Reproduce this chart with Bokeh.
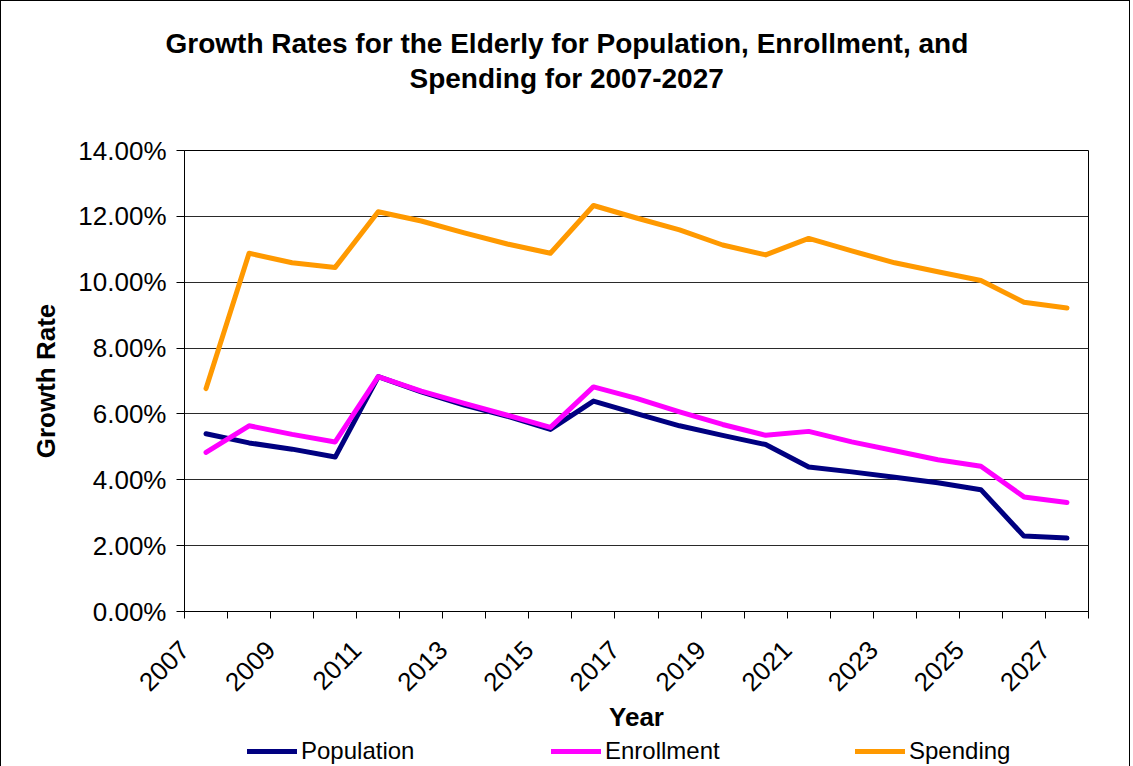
from bokeh.plotting import figure
from bokeh.layouts import column
from bokeh.models import (ColumnDataSource, Range1d, FixedTicker, SingleIntervalTicker,
                          PrintfTickFormatter, Legend, LegendItem, Title)
from bokeh.embed import file_html
from bokeh.resources import INLINE

# ---------------- data ----------------
years = [str(y) for y in range(2007, 2028)]
population = [5.40, 5.12, 4.93, 4.69, 7.13, 6.67, 6.27, 5.93, 5.53, 6.39, 6.01,
              5.64, 5.35, 5.07, 4.39, 4.24, 4.08, 3.91, 3.70, 2.29, 2.23]
enrollment = [4.83, 5.64, 5.38, 5.15, 7.13, 6.69, 6.32, 5.96, 5.59, 6.82, 6.47,
              6.06, 5.68, 5.35, 5.47, 5.15, 4.88, 4.61, 4.41, 3.48, 3.31]
spending = [6.77, 10.88, 10.59, 10.45, 12.14, 11.86, 11.50, 11.16, 10.88, 12.33, 11.95,
            11.59, 11.13, 10.83, 11.33, 10.95, 10.59, 10.32, 10.05, 9.39, 9.22]
series_names = ["Population", "Enrollment", "Spending"]
series_cols = ["population", "enrollment", "spending"]
series_colors = ["#000080", "#FF00FF", "#FF9900"]
title_lines = ["Growth Rates for the Elderly for Population, Enrollment, and",
               "Spending for 2007-2027"]
y_max = 14
y_step = 2

FONT = "Liberation Sans"
LINE_W = 5

n = len(years)
xpos = [i + 0.5 for i in range(n)]  # category centres
source = ColumnDataSource(dict(x=xpos, year=years, population=population,
                               enrollment=enrollment, spending=spending))

p = figure(frame_width=904, frame_height=461, output_backend="svg", toolbar_location=None,
           x_range=Range1d(0, n), y_range=Range1d(0, y_max),
           min_border_left=183, min_border_right=41, min_border_top=149,
           min_border_bottom=122)
p.title.visible = False
p.outline_line_color = "#000000"
p.outline_line_width = 1
p.background_fill_color = "white"
p.border_fill_color = "white"

# ---------------- axes ----------------
label_shift = 0.5
tick_pos = [i + 0.5 - label_shift for i in range(0, n, 2)]
p.xaxis.ticker = FixedTicker(ticks=tick_pos, minor_ticks=list(range(n + 1)))
p.xaxis.major_label_overrides = {t: years[i] for t, i in zip(tick_pos, range(0, n, 2))}
p.xaxis.major_label_orientation = 0.7853981634
p.xaxis.major_tick_out = 0
p.xaxis.major_tick_in = 0
p.xaxis.minor_tick_out = 7
p.xaxis.minor_tick_in = 0
p.xaxis.minor_tick_line_color = "#000000"
p.xaxis.major_label_standoff = 27
p.xaxis.axis_label = "Year"
p.xaxis.axis_label_standoff = 0

p.yaxis.ticker = SingleIntervalTicker(interval=y_step, num_minor_ticks=0)
p.yaxis.formatter = PrintfTickFormatter(format="%.2f%%")
p.yaxis.major_tick_out = 8
p.yaxis.major_tick_in = 0
p.yaxis.minor_tick_out = 0
p.yaxis.minor_tick_in = 0
p.yaxis.major_label_standoff = 10
p.yaxis.axis_label = "Growth Rate"
p.yaxis.axis_label_standoff = 14

for ax in (p.xaxis[0], p.yaxis[0]):
    ax.axis_line_color = "#000000"
    ax.axis_line_width = 1
    ax.major_tick_line_color = "#000000"
    ax.major_label_text_font = FONT
    ax.major_label_text_font_size = "26px"
    ax.major_label_text_color = "#000000"
    ax.axis_label_text_font = FONT
    ax.axis_label_text_font_size = "26px"
    ax.axis_label_text_font_style = "bold"
    ax.axis_label_text_color = "#000000"

p.xgrid.visible = False
p.ygrid.grid_line_color = "#2a2a2a"
p.ygrid.grid_line_width = 1

# ---------------- lines ----------------
for col, color in zip(series_cols, series_colors):
    p.line("x", col, source=source, line_color=color, line_width=LINE_W,
           line_join="round", line_cap="round")

# ---------------- title (stacked from the frame upward) ----------------
p.add_layout(Title(text=" ", text_font_size="10px", standoff=42), "above")
p.add_layout(Title(text=title_lines[1], align="left", offset=225, standoff=4,
                   text_font=FONT, text_font_style="bold", text_font_size="28px",
                   text_color="#000000"), "above")
p.add_layout(Title(text=title_lines[0], align="left", offset=-19, standoff=0,
                   text_font=FONT, text_font_style="bold", text_font_size="28px",
                   text_color="#000000"), "above")

# ---------------- legend strip (own small figure below the chart) ----------------
# the series are drawn here too, but outside the visible y range, so only
# the legend keys show
lf = figure(width=1128, height=33, output_backend="svg", toolbar_location=None,
            x_axis_location=None, y_axis_location=None, min_border=0,
            x_range=Range1d(0, n), y_range=Range1d(-2, -1))
lf.title.visible = False
lf.grid.visible = False
lf.outline_line_color = None
lf.border_fill_color = "white"
legend_items = []
for nm, col, color in zip(series_names, series_cols, series_colors):
    r = lf.line("x", col, source=source, line_color=color, line_width=LINE_W,
                line_cap="round")
    legend_items.append(LegendItem(label=nm, renderers=[r]))
legend = Legend(items=legend_items, orientation="horizontal", location=(63, 3),
                label_text_font=FONT, label_text_font_size="24px", label_text_color="#000000",
                glyph_width=50, glyph_height=28, label_height=28, label_standoff=4,
                label_width=117, spacing=133, padding=0, margin=0,
                border_line_color=None, background_fill_alpha=0)
lf.add_layout(legend, "center")

layout = column(p, lf, spacing=0)
layout.styles = {"border-top": "1px solid #000", "border-left": "1px solid #000",
                 "border-right": "1px solid #000"}

open("out.html", "w").write(file_html(layout, INLINE))
